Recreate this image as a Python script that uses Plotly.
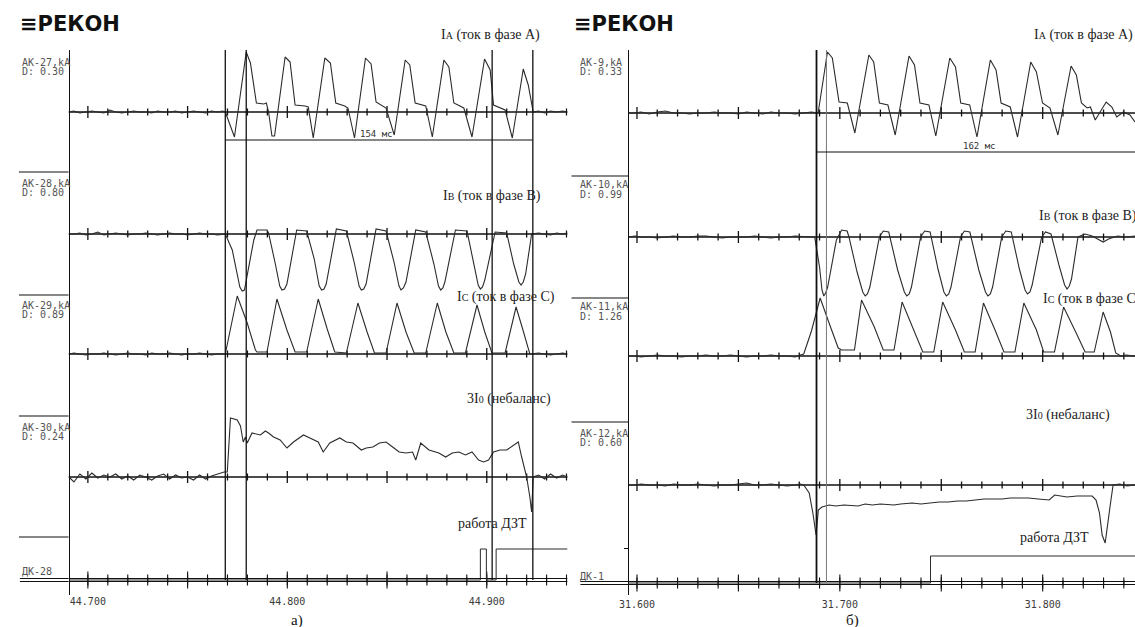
import plotly.graph_objects as go

W, H = 1135, 627

# ===================== DATA =====================
# Panel a): time origin 44.700 s, times in ms, amplitudes in screen units (up = +)
T0_A = 44.700
PRE_A_T = [-9.5, -7, -4, -1, 2, 5, 8, 11, 14, 17, 20, 23, 26, 29, 32, 35, 38, 41, 44, 47, 50, 53, 56, 59, 62, 65, 67.5]
POST_A_T = [226, 229, 232, 235, 238, 240.5]

IA_A_T = PRE_A_T + [68.9, 73.5, 79.4, 81.5, 84.5, 88.2, 89.5, 90.6, 92.3, 93.6,
                    98.9, 101.4, 103.9, 108.9, 110.5, 113.0,
                    118.8, 121.6, 124.3, 128.8, 130.4, 133.7,
                    139.2, 142.0, 144.5, 149.5, 151.6, 153.6,
                    159.1, 161.4, 164.1, 169.4, 172.7,
                    178.5, 181.0, 183.5, 188.5, 192.6,
                    198.9, 201.7, 203.4, 209.2, 212.8,
                    218.3, 220.8, 223.3] + POST_A_T
IA_A_V = [0, 1, -1, 0, 1, 0, -1, 2, 0, -1, 0, 1, 0, 0, -1, 1, 0, 0, 1, -1, 0, 1, 0, -1, 1, 0, 1,
          0, -25, 60, 49, 9, 8, 9, 0, -24, -24,
          55, 50, 7, 6, 5, -26,
          54, 49, 9, 6, 4, -26,
          54, 48, 10, 4, -10, -23,
          52, 47, 9, 6, -25,
          52, 45, 9, 4, -25,
          53, 42, 7, 2, -26,
          43, 27, 0,
          1, -1, 1, 0, 1, 0]

IB_A_T = PRE_A_T + [68.9, 72.4, 76.2, 77.4, 78.5, 83.2, 84.8, 89.8, 90.6,
                    94.0, 96.2, 97.3, 98.6, 99.8, 104.7, 109.7,
                    113.5, 116.0, 117.2, 118.4, 119.5, 124.6, 129.6,
                    133.5, 136.0, 137.1, 138.3, 139.5, 144.5, 149.5,
                    153.5, 156.0, 157.0, 158.2, 159.5, 164.4, 169.4,
                    173.5, 175.8, 176.9, 178.0, 179.0, 184.3, 190.1,
                    193.5, 195.7, 196.8, 197.9, 199.0, 204.2, 210.0,
                    213.5, 216.1, 217.2, 218.3, 219.5, 222.5] + POST_A_T
IB_A_V = [0, 0, 1, -1, 0, 2, -1, 0, 1, 0, -1, 0, 0, 1, 0, -1, 0, 1, 0, 0, -1, 0, 1, 0, 0, -1, 0,
          0, -16, -53, -57, -56, -6, 4, 4, 1,
          -30, -52, -56, -55, -50, 4, 3,
          -25, -52, -56, -55, -50, 5, 3,
          -28, -52, -56, -55, -50, 5, 3,
          -28, -52, -56, -54, -48, 4, 2,
          -30, -52, -56, -54, -48, 4, 3,
          -30, -51, -55, -53, -46, 2, 1,
          -30, -48, -51, -48, -40, 0,
          1, 0, -1, 1, 0, 1]

IC_A_T = PRE_A_T + [68.9, 74.9, 79.9, 84.0, 84.8, 89.8,
                    94.8, 99.8, 103.9, 109.7,
                    115.5, 120.0, 123.8, 129.6,
                    135.4, 140.0, 143.7, 149.5,
                    155.0, 159.5, 163.6, 169.4,
                    175.2, 179.5, 183.5, 189.3,
                    195.1, 199.0, 202.6, 209.2,
                    214.7, 218.0, 221.6] + POST_A_T
IC_A_V = [0, 1, 0, -1, 0, 0, 1, 0, -1, 0, 1, 0, 0, -1, 1, 0, 0, 1, 0, -1, 0, 0, 1, 0, -1, 0, 0,
          0, 58, 31, 4, 2, 2,
          55, 24, 2, 2,
          55, 25, 2, 1,
          51, 22, 1, 1,
          51, 22, 1, 1,
          51, 22, 1, 1,
          49, 22, 1, 1,
          47, 25, 0,
          1, 0, -1, 0, 1, 0]

I0_A_T = PRE_A_T + [68.3, 69.9, 71.5, 74.9, 76.5, 77.9, 79.0, 79.9, 82.3, 86.5,
                    89.0, 90.6, 93.1, 96.4, 99.8, 103.1, 108.1, 111.3, 115.5, 118.0,
                    121.3, 126.3, 129.6, 132.9, 137.1, 139.6, 142.9, 146.2, 149.5, 152.8,
                    156.1, 159.5, 162.8, 164.4, 166.9, 171.0, 176.0, 179.4, 182.7, 186.0,
                    189.3, 192.6, 195.9, 198.4, 200.9, 203.4, 206.7, 210.0, 213.3, 215.8,
                    217.5, 220.0, 221.6, 222.5, 223.3] + POST_A_T
I0_A_V = [0, -5, 3, -2, 4, -1, 2, 0, 3, -2, 1, -3, 2, 0, -3, 1, 3, -2, 2, -1, 0, -3, 2, -2, 1, 3, 4,
          5, 5, 59, 57, 51, 35, 40, 34, 44, 42,
          46, 44, 40, 37, 29, 35, 42, 39, 35, 25,
          34, 39, 35, 34, 27, 29, 30, 34, 35, 30,
          25, 24, 25, 17, 34, 27, 24, 20, 24, 25,
          22, 25, 17, 15, 17, 25, 27, 27, 32, 35,
          20, 0, -20, -35, 0,
          2, -2, 3, -1, 2, 0]

DZT_A_T = [-9.5, 196.8, 199.8, 204.7, 240.5]
DZT_A_V = [0, 31, 0, 31, 31]

CURSORS_A = [68.9, 79.4, 202.7, 223.1]
MEASURE_A = 154  # ms

TICKS_A = [44.70, 44.75, 44.80, 44.85, 44.90]
TICK_LABELS_A = ['44.700', '', '44.800', '', '44.900']

# Panel б): time origin 31.600 s
T0_B = 31.600
PRE_B_T = [-4.4, -1, 2, 6, 10, 14, 18, 22, 26, 30, 34, 38, 42, 46, 50, 54, 58, 62, 66, 70, 74, 78]

IA_B_T = PRE_B_T + [82, 86,
                    89.3, 93.9, 96.3, 99.6, 103.7, 107.4,
                    114.3, 116.7, 119.5, 123.7, 127.3,
                    134.1, 136.8, 139.5, 143.9, 147.3,
                    154.2, 157.0, 159.6, 164.0, 167.6,
                    174.2, 177.0, 179.5, 184.0, 187.6,
                    194.1, 196.9, 199.9, 203.6, 207.5,
                    214.0, 216.6, 219.1, 221.9, 223.5,
                    225.9, 231.3, 234.1, 236.5, 239.8, 243.0, 245.5]
IA_B_V = [0, 0, 1, -1, 1, 2, 0, 0, -1, 0, 0, 1, 0, 0, -1, 1, 0, -1, 1, 0, 0, -1, 0, 1,
          0, 61, 55, 11, 10, -20,
          58, 51, 10, 8, -22,
          57, 48, 10, 8, -23,
          55, 46, 10, 8, -24,
          53, 43, 10, 6, -24,
          51, 41, 10, 5, -22,
          47, 38, 10, 5, 6,
          -7, 11, 6, -4, 1, -2, -9]

IB_B_T = PRE_B_T + [82, 85,
                    87.6, 90.0, 91.2, 92.1, 93.0, 94.0, 98.3, 100.9, 103.6, 104.5,
                    108.5, 111.3, 112.5, 113.6, 114.8, 119.5, 121.4, 124.1,
                    128.5, 131.8, 133.0, 134.2, 135.3, 139.8, 141.8, 144.5,
                    148.5, 151.3, 152.5, 153.7, 154.8, 159.5, 161.4, 164.1,
                    168.5, 171.8, 173.0, 174.2, 175.3, 179.8, 181.8, 184.5,
                    188.5, 191.3, 192.5, 193.7, 194.8, 199.5, 201.4, 204.1,
                    208.0, 210.8, 212.0, 213.1, 214.2, 217.4, 220.9, 224.4,
                    229.8, 232.5, 236.9, 241, 245.5]
IB_B_V = [0, 1, 0, 0, -1, 0, 1, 0, 0, 1, 1, 0, -1, 0, 0, 0, 1, 0, -1, 0, 0, 1, 0, 0,
          0, -30, -53, -59, -56, -50, -3, 7, 6, 0,
          -35, -55, -59, -57, -50, 0, 6, 5,
          -33, -55, -59, -57, -50, 0, 6, 5,
          -33, -55, -59, -57, -50, 0, 6, 5,
          -33, -55, -59, -57, -50, 0, 6, 5,
          -32, -53, -57, -55, -48, 0, 5, 3,
          -28, -48, -52, -49, -42, 0, 3, 1,
          -5, -2, 1, 0, 1]

IC_B_T = PRE_B_T + [80.5,
                    82.2, 86.0, 90.3, 94.7, 99.2, 100.9,
                    107.2, 110.7, 117.0, 121.4,
                    126.7, 130.7, 136.5, 140.9,
                    146.3, 150.7, 157.0, 161.4,
                    166.7, 170.8, 176.5, 180.9,
                    186.3, 190.7, 196.9, 200.5,
                    205.8, 210.3, 216.5, 220.9,
                    225.4, 229.8, 233.4, 236.0,
                    238.5, 241, 245.5]
IC_B_V = [0, 0, -1, 0, 1, 0, 0, -1, 0, 0, 1, 0, 0, 1, 0, -1, 0, 0, 1, 0, 0, -1, 1,
          2, 25, 58, 33, 8, 6,
          6, 56, 29, 6,
          6, 54, 26, 4,
          4, 54, 26, 4,
          4, 53, 26, 4,
          4, 53, 26, 4,
          4, 49, 23, 4,
          4, 44, 24, 3,
          0, 1, 0]

I0_B_T = PRE_B_T + [80.5,
                    82.2, 84.9, 86.7, 87.6, 88.3, 89.4, 91.2, 94.7, 98, 102,
                    106, 109.0, 112.5, 116, 120, 124, 126.7, 130, 135.6, 140,
                    144.5, 149, 153.4, 158, 162.3, 167, 171.1, 176, 180.0, 184,
                    188.9, 193, 197.8, 201, 203.2, 205.9, 209, 212.0, 217, 221,
                    224.4, 226.3, 228.0, 229.3, 230.8, 233.3, 234.7, 238, 241.5, 245.5]
I0_B_V = [0, 0, 1, 0, 0, -1, 1, 0, 0, 1, 0, -1, 0, 0, 1, 2, 0, 0, 1, 0, -1, 0, 1,
          0, -8, -28, -42, -50, -25, -22, -20, -21, -20,
          -21, -21, -19, -20, -19, -20, -20, -19, -18, -19,
          -18, -17, -17, -16, -16, -15, -14, -14, -14, -13,
          -13, -13, -14, -15, -15, -10, -11, -12, -11, -11,
          -11, -15, -28, -50, -58, -20, 0, 1, -1, 0]

DZT_B_T = [-4.4, 144.7, 245.5]
DZT_B_V = [0, 27, 27]

CURSORS_B = [88.5, 93.4]
MEASURE_B = 162  # ms

TICKS_B = [31.60, 31.65, 31.70, 31.75, 31.80]
TICK_LABELS_B = ['31.600', '', '31.700', '', '31.800']

# ===================== LAYOUT GEOMETRY =====================
Y_TOP, Y_BOT = 50, 595
BASE_A = {'IA': 112, 'IB': 234, 'IC': 354, 'I0': 477, 'DK': 580}
BASE_B = {'IA': 113, 'IB': 237, 'IC': 356, 'I0': 485, 'DK': 583}
RANGE_A = [44.6903, 44.9405]
RANGE_B = [31.5956, 31.8455]
DOM_A = [60 / W, 563 / W]
DOM_B = [624 / W, 1.0]

LINE = '#111111'
WAVE = '#2b2b2b'

fig = go.Figure()


def scale_line(t0, rng, py, xa, ya, major_len, minor_len, width=1.3):
    """Channel zero line with 10 ms / 50 ms time marks crossing it."""
    xs = [rng[0], rng[1], None]
    ys = [py, py, None]
    for k in range(-1, 26):
        t = t0 + k * 0.01
        if t < rng[0] or t > rng[1]:
            continue
        ln = major_len if k % 5 == 0 else minor_len
        xs += [t, t, None]
        ys += [py - ln, py + ln, None]
    fig.add_trace(go.Scatter(x=xs, y=ys, mode='lines', line=dict(color=LINE, width=width),
                             xaxis=xa, yaxis=ya, hoverinfo='skip', showlegend=False,
                             connectgaps=False))


for key in ['IA', 'IB', 'IC', 'I0']:
    scale_line(T0_A, RANGE_A, BASE_A[key], 'x', 'y', 6, 3.5)
    scale_line(T0_B, RANGE_B, BASE_B[key], 'x2', 'y2', 6, 3.5)
# bottom (discrete channel) axis: doubled line
scale_line(T0_A, RANGE_A, BASE_A['DK'] - 1.5, 'x', 'y', 7, 4, width=1.1)
scale_line(T0_A, RANGE_A, BASE_A['DK'] + 1.5, 'x', 'y', 7, 4, width=1.1)
scale_line(T0_B, RANGE_B, BASE_B['DK'] - 1.5, 'x2', 'y2', 7, 4, width=1.1)
scale_line(T0_B, RANGE_B, BASE_B['DK'] + 1.5, 'x2', 'y2', 7, 4, width=1.1)


def add_wave(t0, ts, vs, base, xa, ya, width=1.1, color=WAVE, shape='linear'):
    fig.add_trace(go.Scatter(
        x=[t0 + t / 1000.0 for t in ts], y=[base - v for v in vs],
        mode='lines', line=dict(color=color, width=width, shape=shape),
        xaxis=xa, yaxis=ya, hoverinfo='skip', showlegend=False))


# panel a
add_wave(T0_A, IA_A_T, IA_A_V, BASE_A['IA'], 'x', 'y')
add_wave(T0_A, IB_A_T, IB_A_V, BASE_A['IB'], 'x', 'y')
add_wave(T0_A, IC_A_T, IC_A_V, BASE_A['IC'], 'x', 'y')
add_wave(T0_A, I0_A_T, I0_A_V, BASE_A['I0'], 'x', 'y')
add_wave(T0_A, DZT_A_T, DZT_A_V, BASE_A['DK'], 'x', 'y', width=1.0, shape='hv')
# panel b
add_wave(T0_B, IA_B_T, IA_B_V, BASE_B['IA'], 'x2', 'y2')
add_wave(T0_B, IB_B_T, IB_B_V, BASE_B['IB'], 'x2', 'y2')
add_wave(T0_B, IC_B_T, IC_B_V, BASE_B['IC'], 'x2', 'y2')
add_wave(T0_B, I0_B_T, I0_B_V, BASE_B['I0'], 'x2', 'y2')
add_wave(T0_B, DZT_B_T, DZT_B_V, BASE_B['DK'], 'x2', 'y2', width=1.0, shape='hv')


def add_cursor(t0, t, y1, xa, ya, color=LINE, width=1.3):
    fig.add_trace(go.Scatter(x=[t0 + t / 1000.0] * 2, y=[Y_TOP, y1], mode='lines',
                             line=dict(color=color, width=width), xaxis=xa, yaxis=ya,
                             hoverinfo='skip', showlegend=False))


for t in CURSORS_A:
    add_cursor(T0_A, t, BASE_A['DK'], 'x', 'y')
add_cursor(T0_B, CURSORS_B[0], BASE_B['DK'], 'x2', 'y2', width=1.8)
add_cursor(T0_B, CURSORS_B[1], BASE_B['DK'], 'x2', 'y2', color='#777777', width=1.0)

# measurement bars
fig.add_trace(go.Scatter(x=[T0_A + CURSORS_A[0] / 1000, T0_A + (CURSORS_A[0] + MEASURE_A) / 1000],
                         y=[140, 140], mode='lines', line=dict(color=LINE, width=1.2),
                         xaxis='x', yaxis='y', hoverinfo='skip', showlegend=False))
fig.add_trace(go.Scatter(x=[T0_B + CURSORS_B[0] / 1000, T0_B + (CURSORS_B[0] + MEASURE_B) / 1000],
                         y=[152, 152], mode='lines', line=dict(color=LINE, width=1.2),
                         xaxis='x2', yaxis='y2', hoverinfo='skip', showlegend=False))


# ---------------- axes ----------------
def xaxis_def(rng, dom, ticks, labels, py):
    return dict(range=rng, domain=dom, anchor='free', position=(H - py) / H, side='bottom',
                showline=False, showgrid=False, zeroline=False, fixedrange=True,
                ticks='', tickmode='array', tickvals=ticks, ticktext=labels,
                showticklabels=True, ticklabelstandoff=14,
                tickfont=dict(family='DejaVu Sans Mono', size=10, color='#3a3a3a'))


ydom = [(H - Y_BOT) / H, (H - Y_TOP) / H]
fig.update_layout(
    xaxis=xaxis_def(RANGE_A, DOM_A, TICKS_A, TICK_LABELS_A, BASE_A['DK']),
    xaxis2=xaxis_def(RANGE_B, DOM_B, TICKS_B, TICK_LABELS_B, BASE_B['DK']),
    yaxis=dict(domain=ydom, range=[Y_BOT, Y_TOP], anchor='free', position=60 / W,
               showline=True, linecolor=LINE, linewidth=1.4, ticks='',
               showticklabels=False, showgrid=False, zeroline=False, fixedrange=True),
    yaxis2=dict(domain=ydom, range=[Y_BOT, Y_TOP], anchor='free', position=624 / W,
                showline=True, linecolor=LINE, linewidth=1.4, ticks='outside',
                tickmode='array', tickvals=[548], ticklen=4, tickcolor=LINE,
                showticklabels=False, showgrid=False, zeroline=False, fixedrange=True),
)


# ---------------- annotations ----------------
def txt(px, py, s, size, family, color='#222222', xanchor='left', yanchor='middle'):
    return dict(x=px / W, y=1 - py / H, xref='paper', yref='paper', text=s, showarrow=False,
                xanchor=xanchor, yanchor=yanchor, font=dict(size=size, family=family, color=color))


MONO = 'DejaVu Sans Mono'
SERIF = 'Liberation Serif'
LOGO = 'DejaVu Sans'
sub = "<span style='font-size:10px'>%s</span>"
GREY = '#555555'

ann = [
    txt(9, 24, '<b>≡РЕКОН</b>', 21, LOGO, '#111111'),
    txt(567, 24, '<b>≡РЕКОН</b>', 21, LOGO, '#111111'),
    # channel labels panel a
    txt(11, 62, 'AK-27,kA', 10, MONO, GREY), txt(11, 71, 'D: 0.30', 10, MONO, GREY),
    txt(11, 183, 'AK-28,kA', 10, MONO, GREY), txt(11, 192, 'D: 0.80', 10, MONO, GREY),
    txt(11, 305, 'AK-29,kA', 10, MONO, GREY), txt(11, 314, 'D: 0.89', 10, MONO, GREY),
    txt(11, 427, 'AK-30,kA', 10, MONO, GREY), txt(11, 436, 'D: 0.24', 10, MONO, GREY),
    txt(11, 571, 'ДК-28', 10, MONO, GREY),
    # channel labels panel b
    txt(574, 62, 'AK-9,kA', 10, MONO, GREY), txt(574, 71, 'D: 0.33', 10, MONO, GREY),
    txt(574, 185, 'AK-10,kA', 10, MONO, GREY), txt(574, 194, 'D: 0.99', 10, MONO, GREY),
    txt(574, 307, 'AK-11,kA', 10, MONO, GREY), txt(574, 316, 'D: 1.26', 10, MONO, GREY),
    txt(574, 433, 'AK-12,kA', 10, MONO, GREY), txt(574, 442, 'D: 0.60', 10, MONO, GREY),
    txt(574, 576, 'ДК-1', 10, MONO, GREY),
    # measurement labels
    txt(370, 134, '154 мс', 9, MONO, '#333333', xanchor='center'),
    txt(978, 146, '162 мс', 9, MONO, '#333333', xanchor='center'),
    # signal names panel a
    txt(537, 35, 'I' + sub % 'A' + ' (ток в фазе A)', 14, SERIF, xanchor='right'),
    txt(538, 196, 'I' + sub % 'B' + ' (ток в фазе B)', 14, SERIF, xanchor='right'),
    txt(552, 297, 'I' + sub % 'C' + ' (ток в фазе C)', 14, SERIF, xanchor='right'),
    txt(548, 399, '3I' + sub % '0' + ' (небаланс)', 14, SERIF, xanchor='right'),
    txt(524, 523, 'работа ДЗТ', 14, SERIF, xanchor='right'),
    # signal names panel b
    txt(1031, 35, 'I' + sub % 'A' + ' (ток в фазе A)', 14, SERIF),
    txt(1036, 216, 'I' + sub % 'B' + ' (ток в фазе B)', 14, SERIF),
    txt(1040, 299, 'I' + sub % 'C' + ' (ток в фазе C)', 14, SERIF),
    txt(1023, 415, '3I' + sub % '0' + ' (небаланс)', 14, SERIF),
    txt(1017, 537, 'работа ДЗТ', 14, SERIF),
    # panel captions
    txt(290, 620, 'а)', 15, SERIF, '#111111', xanchor='center'),
    txt(850, 620, 'б)', 15, SERIF, '#111111', xanchor='center'),
]


# separators in the label column (decoration)
def hline(x0, x1, py, w=1.2):
    return dict(type='line', xref='paper', yref='paper', x0=x0 / W, x1=x1 / W,
                y0=1 - py / H, y1=1 - py / H, line=dict(color=LINE, width=w))


shapes = [hline(10, 60, 172), hline(10, 60, 295), hline(10, 60, 416), hline(10, 60, 537),
          hline(11, 60, BASE_A['DK'] + 1.5, 1.1), hline(11, 60, BASE_A['DK'] - 1.5, 1.1),
          hline(567, 624, 176), hline(567, 624, 298), hline(567, 624, 422),
          hline(576, 624, BASE_B['DK'] + 1.5, 1.1), hline(576, 624, BASE_B['DK'] - 1.5, 1.1)]

fig.update_layout(width=W, height=H, autosize=False,
                  margin=dict(l=0, r=0, t=0, b=0),
                  paper_bgcolor='white', plot_bgcolor='white',
                  showlegend=False, annotations=ann, shapes=shapes)

fig.write_html("out.html", config={'displayModeBar': False},
               post_script="document.body.style.margin='0px';document.body.style.overflow='hidden';")
